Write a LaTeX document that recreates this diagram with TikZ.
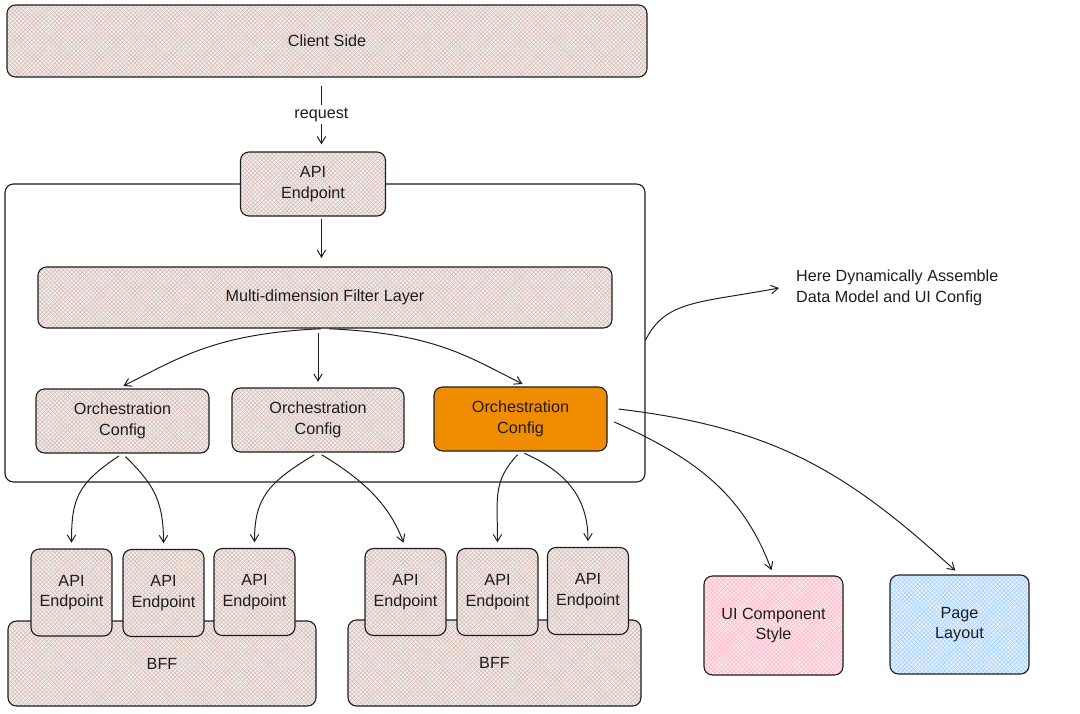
\documentclass[tikz,border=0pt]{standalone}
\usepackage{fontspec}
\setmainfont{Liberation Sans}
\usetikzlibrary{arrows.meta,patterns}

\begin{document}
\begin{tikzpicture}[x=0.025cm,y=-0.025cm,
		box/.style={draw=ink,line width=0.8pt,rounded corners=6pt,align=center,inner sep=0pt,text=ink,font=\fontsize{11.5}{14.5}\selectfont},
		sz/.style 2 args={minimum width=#1*0.025cm,minimum height=#2*0.025cm},
		hatch/.style={preaction={fill=#1!30!white},preaction={pattern=north west lines,pattern color=#1},pattern=north east lines,pattern color=#1},
		link/.style={draw=ink,line width=0.7pt,-{Straight Barb[length=5pt,width=6pt]}}]
		\definecolor{ink}{HTML}{1E1E1E}
		\definecolor{sand}{HTML}{D6C0BA}
		\definecolor{rosa}{HTML}{FFB8C8}
		\definecolor{himmel}{HTML}{A8D2FF}
		\definecolor{orange}{HTML}{F08C00}
		\useasboundingbox (0,0) rectangle (1080,713);
		% Rahmen
		\node[box,sz={640}{298},fill=white] (core) at (325,333) {};
		% oben
		\node[box,sz={640}{72},hatch=sand] (cs) at (327,41) {Client Side};
		\node[box,sz={145}{64},hatch=sand] (ep0) at (313,184) {API\\Endpoint};
		\node[box,sz={574}{61},hatch=sand] (fil) at (325,297.5) {Multi-dimension Filter Layer};
		% Orchestration
		\node[box,sz={173}{64},hatch=sand] (c1) at (122.5,421) {Orchestration\\Config};
		\node[box,sz={172}{64},hatch=sand] (c2) at (318,420) {Orchestration\\Config};
		\node[box,sz={173}{64},fill=orange] (c3) at (520.5,419) {Orchestration\\Config};
		% BFF
		\node[box,sz={308}{85},hatch=sand] (bff1) at (162,663.5) {BFF};
		\node[box,sz={293}{86},hatch=sand] (bff2) at (494.5,663) {BFF};
		\node[box,sz={81}{87},hatch=sand] (ep1) at (71.5,592.5) {API\\Endpoint};
		\node[box,sz={81}{87},hatch=sand] (ep2) at (163.5,593) {API\\Endpoint};
		\node[box,sz={81}{87},hatch=sand] (ep3) at (254.5,592) {API\\Endpoint};
		\node[box,sz={81}{87},hatch=sand] (ep4) at (405.5,592) {API\\Endpoint};
		\node[box,sz={81}{87},hatch=sand] (ep5) at (497.5,592) {API\\Endpoint};
		\node[box,sz={81}{87},hatch=sand] (ep6) at (588,591) {API\\Endpoint};
		% UI
		\node[box,sz={139}{99},hatch=rosa] (ui) at (773.5,625.5) {UI Component\\Style};
		\node[box,sz={139}{99},hatch=himmel] (page) at (959.5,624.5) {Page\\Layout};
		\node[align=left,anchor=west,inner xsep=12pt,inner ysep=0pt,text=ink,font=\fontsize{11.5}{14.5}\selectfont] (note) at (779,288) {Here Dynamically Assemble\\Data Model and UI Config};
		
		% Pfeile
		\draw[link,shorten <=6pt,shorten >=5pt] ([xshift=6pt]cs.south -| ep0.north) -- node[fill=white,text=ink,inner sep=2pt,font=\fontsize{11.5}{14.5}\selectfont] {request} ([xshift=6pt]ep0.north);
		\draw[link,shorten <=2pt,shorten >=6pt] ([xshift=6pt]ep0.south) -- ([xshift=6pt]ep0.south |- fil.north);
		\draw[link,shorten <=3pt,shorten >=4pt] (fil.south) .. controls +(-110,5) and +(60,-30) .. ([xshift=-3pt]c1.north);
		\draw[link,shorten <=3pt,shorten >=4pt] (fil.south -| c2.north) -- (c2.north);
		\draw[link,shorten <=3pt,shorten >=4pt] (fil.south) .. controls +(110,5) and +(-60,-30) .. ([xshift=5pt]c3.north);
		\draw[link,shorten <=3pt,shorten >=4pt] (c1.south) .. controls +(-45,30) and +(0,-50) .. (ep1.north);
		\draw[link,shorten <=3pt,shorten >=4pt] (c1.south) .. controls +(30,30) and +(0,-50) .. (ep2.north);
		\draw[link,shorten <=3pt,shorten >=4pt] (c2.south) .. controls +(-50,30) and +(0,-50) .. (ep3.north);
		\draw[link,shorten <=3pt,shorten >=4pt] (c2.south) .. controls +(50,30) and +(-15,-40) .. (ep4.north);
		\draw[link,shorten <=3pt,shorten >=4pt] (c3.south) .. controls +(-28,30) and +(0,-50) .. (ep5.north);
		\draw[link,shorten <=3pt,shorten >=4pt] (c3.south) .. controls +(45,20) and +(0,-50) .. (ep6.north);
		\draw[link,shorten <=5pt,shorten >=4pt] (c3.east) .. controls +(90,40) and +(-30,-80) .. (ui.north);
		\draw[link,shorten <=8pt,shorten >=4pt] ([yshift=8pt]c3.east) .. controls +(170,20) and +(-110,-100) .. (page.north);
		\draw[link] ([yshift=-5pt]core.east) .. controls +(20,-40) and +(-80,15) .. (note.west);
\end{tikzpicture}
\end{document}
